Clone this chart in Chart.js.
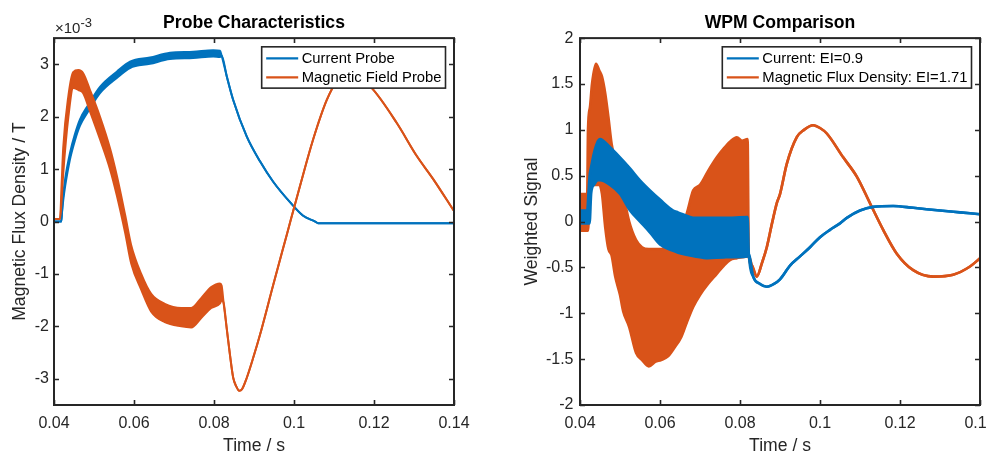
<!DOCTYPE html>
<html>
<head>
<meta charset="utf-8">
<script src="https://cdn.jsdelivr.net/npm/chart.js@4/dist/chart.umd.min.js"></script>
<style>
  body { margin: 0; background: #fff; }
  #wrap { position: relative; width: 986px; height: 453px; overflow: hidden; }
  canvas { position: absolute; top: 0; }
</style>
</head>
<body>
<div id="wrap">
  <canvas id="probeChart" width="490" height="453" style="left:0"></canvas>
  <canvas id="wpmChart" width="496" height="453" style="left:490px"></canvas>
</div>
<script>
// ---- Probe Characteristics (values in units of 1e-3 T) ----
// noisy parts are kept as an upper / lower envelope, smooth parts have high == low
const currentProbeTime = [0.0400, 0.0418, 0.0420, 0.0423, 0.0428, 0.0440, 0.0452, 0.0465, 0.0486, 0.0515,
  0.0557, 0.0590, 0.0640, 0.0690, 0.0748, 0.0798, 0.0815, 0.0819, 0.0832, 0.0848,
  0.0882, 0.0915, 0.0948, 0.0990, 0.1023, 0.1053, 0.1060, 0.1200, 0.1400];
const currentProbeHigh = [0, 0, 0.18, 0.50, 0.82, 1.31, 1.66, 1.95, 2.23, 2.57,
  2.86, 3.05, 3.13, 3.22, 3.24, 3.27, 3.26, 3.17, 2.77, 2.32,
  1.62, 1.15, 0.76, 0.37, 0.11, 0.00, -0.03, -0.03, -0.03];
const currentProbeLow = [0, 0, 0.18, 0.40, 0.68, 1.19, 1.54, 1.83, 2.11, 2.45,
  2.74, 2.93, 3.01, 3.10, 3.12, 3.15, 3.14, 3.17, 2.77, 2.32,
  1.62, 1.15, 0.76, 0.37, 0.11, 0.00, -0.03, -0.03, -0.03];

const fieldProbeTime = [0.0400, 0.0415, 0.0419, 0.0423, 0.0436, 0.0448, 0.0461, 0.0473, 0.0490, 0.0515,
  0.0540, 0.0557, 0.0578, 0.0593, 0.0618, 0.0643, 0.0677, 0.0718, 0.0743, 0.0768, 0.0793,
  0.0815, 0.0819, 0.0824, 0.0832, 0.0840, 0.0848, 0.0856, 0.0863, 0.0870, 0.0882,
  0.0898, 0.0915, 0.0948, 0.0982, 0.1015, 0.1048, 0.1082, 0.1107, 0.1150, 0.1194,
  0.1257, 0.1307, 0.1348, 0.1400];
const fieldProbeHigh = [0.05, 0.05, 0.70, 1.40, 2.40, 2.85, 2.89, 2.83, 2.51, 2.00,
  1.40, 0.88, 0.12, -0.45, -1.00, -1.38, -1.57, -1.65, -1.65, -1.46, -1.25,
  -1.18, -1.22, -1.55, -2.05, -2.55, -2.98, -3.15, -3.23, -3.20, -2.98,
  -2.60, -2.16, -1.21, -0.25, 0.68, 1.57, 2.32, 2.67, 2.80, 2.55,
  1.88, 1.25, 0.81, 0.20];
const fieldProbeLow = [0.05, 0.05, 0.40, 0.90, 2.00, 2.55, 2.51, 2.45, 2.10, 1.57,
  1.00, 0.50, -0.22, -0.80, -1.30, -1.72, -1.92, -2.00, -2.02, -1.84, -1.65,
  -1.56, -1.50, -1.55, -2.05, -2.55, -2.98, -3.15, -3.23, -3.20, -2.98,
  -2.60, -2.16, -1.21, -0.25, 0.68, 1.57, 2.32, 2.67, 2.80, 2.55,
  1.88, 1.25, 0.81, 0.20];

// ---- WPM Comparison (weighted signal) ----
const wpmCurrentTime = [0.0400, 0.0418, 0.0421, 0.0424, 0.0428, 0.0435, 0.0445, 0.0450, 0.0475, 0.0500,
  0.0525, 0.0550, 0.0575, 0.0600, 0.0633, 0.0645, 0.0675, 0.0687, 0.0720, 0.0760,
  0.0819, 0.0822, 0.0833, 0.0850, 0.0867, 0.0885, 0.0900, 0.0925, 0.0950, 0.0975,
  0.1000, 0.1025, 0.1050, 0.1067, 0.1100, 0.1133, 0.1183, 0.1233, 0.1300, 0.1350,
  0.1400];
const wpmCurrentHigh = [0.12, 0.12, 0.30, 0.50, 0.60, 0.75, 0.88, 0.90, 0.81, 0.70,
  0.58, 0.45, 0.34, 0.24, 0.12, 0.10, 0.05, 0.04, 0.04, 0.04,
  0.05, -0.35, -0.60, -0.68, -0.71, -0.68, -0.63, -0.48, -0.38, -0.28,
  -0.17, -0.09, -0.02, 0.04, 0.12, 0.16, 0.17, 0.15, 0.12, 0.10,
  0.08];
const wpmCurrentLow = [-0.02, -0.02, -0.02, -0.02, 0.31, 0.40, 0.45, 0.45, 0.40, 0.30,
  0.12, 0.00, -0.12, -0.25, -0.32, -0.34, -0.37, -0.38, -0.40, -0.39,
  -0.38, -0.35, -0.60, -0.68, -0.71, -0.68, -0.63, -0.48, -0.38, -0.28,
  -0.17, -0.09, -0.02, 0.04, 0.12, 0.16, 0.17, 0.15, 0.12, 0.10,
  0.08];

const wpmFluxTime = [0.0400, 0.0418, 0.0420, 0.0425, 0.0430, 0.0440, 0.0448, 0.0455, 0.0463, 0.0471,
  0.0479, 0.0488, 0.0500, 0.0508, 0.0523, 0.0540, 0.0555, 0.0572, 0.0588, 0.0603,
  0.0620, 0.0637, 0.0653, 0.0667, 0.0683, 0.0700, 0.0720, 0.0742, 0.0760, 0.0775,
  0.0792, 0.0805, 0.0819, 0.0822, 0.0830, 0.0842, 0.0855, 0.0867, 0.0880, 0.0892,
  0.0900, 0.0917, 0.0942, 0.0960, 0.0983, 0.1000, 0.1017, 0.1058, 0.1092, 0.1125,
  0.1158, 0.1192, 0.1233, 0.1283, 0.1333, 0.1375, 0.1400];
const wpmFluxHigh = [0.30, 0.30, 1.00, 1.25, 1.50, 1.72, 1.65, 1.58, 1.40, 1.14,
  0.85, 0.67, 0.45, 0.30, 0.00, -0.20, -0.28, -0.30, -0.30, -0.30,
  -0.25, -0.15, -0.05, 0.09, 0.34, 0.40, 0.55, 0.70, 0.80, 0.87,
  0.92, 0.88, 0.90, -0.38, -0.48, -0.60, -0.45, -0.28, -0.02, 0.20,
  0.30, 0.63, 0.92, 1.00, 1.05, 1.02, 0.96, 0.70, 0.49, 0.20,
  -0.09, -0.35, -0.53, -0.60, -0.58, -0.49, -0.40];
const wpmFluxLow = [-0.10, -0.10, -0.10, 0.35, 0.40, 0.40, 0.40, 0.30, -0.06, -0.30,
  -0.37, -0.60, -0.80, -0.98, -1.15, -1.43, -1.51, -1.58, -1.53, -1.51,
  -1.47, -1.37, -1.26, -1.10, -0.93, -0.80, -0.68, -0.57, -0.48, -0.42,
  -0.40, -0.39, -0.38, -0.38, -0.48, -0.60, -0.45, -0.28, -0.02, 0.20,
  0.30, 0.63, 0.92, 1.00, 1.05, 1.02, 0.96, 0.70, 0.49, 0.20,
  -0.09, -0.35, -0.53, -0.60, -0.58, -0.49, -0.40];

const timeTicks = [0.04, 0.06, 0.08, 0.1, 0.12, 0.14];
const probeTicks = [-3, -2, -1, 0, 1, 2, 3];
const wpmTicks = [-2, -1.5, -1, -0.5, 0, 0.5, 1, 1.5, 2];

const BLUE = '#0072BD';
const ORANGE = '#D95319';
const AXIS = '#262626';
const FONT = "'Liberation Sans', Arial, Helvetica, sans-serif";

Chart.defaults.font.family = FONT;

function points(t, v) {
    return t.map((x, i) => ({ x: x, y: v[i] }));
}

// band = upper line filled down to the lower line
function band(label, t, hi, lo, color, width, order) {
    return [
        { label: label, data: points(t, hi), borderColor: color, backgroundColor: color,
          borderWidth: width, pointRadius: 0, fill: '+1', order: order, cubicInterpolationMode: 'monotone' },
        { label: '', data: points(t, lo), borderColor: color, backgroundColor: color,
          borderWidth: width, pointRadius: 0, fill: false, order: order, cubicInterpolationMode: 'monotone' }
    ];
}

// box, inner ticks, legend and exponent, drawn the MATLAB way
const matlabAxes = {
    id: 'matlabAxes',
    afterDatasetsDraw(chart, args, opts) {
        const ctx = chart.ctx;
        const a = chart.chartArea;
        const xs = chart.scales.x, ys = chart.scales.y;
        ctx.save();
        ctx.strokeStyle = AXIS;
        ctx.lineWidth = 1.6;
        ctx.beginPath();
        xs.ticks.forEach(t => {
            const px = Math.round(xs.getPixelForValue(t.value)) + 0.5;
            ctx.moveTo(px, a.bottom); ctx.lineTo(px, a.bottom - 5);
            ctx.moveTo(px, a.top); ctx.lineTo(px, a.top + 5);
        });
        ys.ticks.forEach(t => {
            const py = Math.round(ys.getPixelForValue(t.value)) + 0.5;
            ctx.moveTo(a.left, py); ctx.lineTo(a.left + 5, py);
            ctx.moveTo(a.right, py); ctx.lineTo(a.right - 5, py);
        });
        ctx.stroke();
        ctx.lineWidth = 2;
        ctx.strokeRect(a.left, a.top, a.right - a.left, a.bottom - a.top);

        // legend
        const items = chart.data.datasets.filter(d => d.label);
        ctx.font = '14.8px ' + FONT;
        const textW = Math.max.apply(null, items.map(d => ctx.measureText(d.label).width));
        const boxW = 4.5 + 32 + 3.5 + textW + 4;
        const boxH = 41.3;
        const bx = a.right - 8.5 - boxW;
        const by = a.top + 8.7;
        ctx.fillStyle = '#fff';
        ctx.fillRect(bx, by, boxW, boxH);
        ctx.lineWidth = 1.6;
        ctx.strokeStyle = AXIS;
        ctx.strokeRect(bx, by, boxW, boxH);
        items.forEach((d, i) => {
            const ry = by + 11.6 + i * 19;
            ctx.strokeStyle = d.borderColor;
            ctx.lineWidth = 2.2;
            ctx.beginPath();
            ctx.moveTo(bx + 4.5, ry); ctx.lineTo(bx + 36.5, ry);
            ctx.stroke();
            ctx.fillStyle = '#000';
            ctx.textBaseline = 'middle';
            ctx.textAlign = 'left';
            ctx.fillText(d.label, bx + 40, ry);
        });

        if (opts.exponent) {
            ctx.fillStyle = AXIS;
            ctx.textBaseline = 'alphabetic';
            ctx.font = '15px ' + FONT;
            ctx.fillText('\u00d710', a.left + 1, 32.5);
            const w = ctx.measureText('\u00d710').width;
            ctx.font = '13px ' + FONT;
            ctx.fillText(opts.exponent, a.left + 1 + w, 26.5);
        }
        ctx.restore();
    }
};

function makeOptions(cfg) {
    return {
        responsive: false,
        devicePixelRatio: 1,
        animation: false,
        layout: { padding: { left: 0, right: cfg.padRight, top: 0, bottom: 0 } },
        plugins: {
            legend: { display: false },
            tooltip: { enabled: false },
            title: {
                display: true,
                text: cfg.title,
                fullSize: false,
                color: '#000',
                font: { size: 17.6, weight: 'bold' },
                padding: { top: 12.7, bottom: 4.3 }
            },
            matlabAxes: { exponent: cfg.exponent }
        },
        scales: {
            x: {
                type: 'linear',
                min: 0.04,
                max: 0.14,
                afterBuildTicks: s => { s.ticks = timeTicks.map(v => ({ value: v })); },
                afterFit: s => { s.height = 48; s.paddingLeft = 0; s.paddingRight = 0; },
                grid: { display: false, drawTicks: false },
                border: { display: false },
                ticks: {
                    autoSkip: false, maxRotation: 0, padding: 9,
                    color: AXIS, font: { size: 16 },
                    callback: v => String(+v.toFixed(2))
                },
                title: {
                    display: true, text: 'Time / s', color: AXIS,
                    font: { size: 17.6, lineHeight: 0.76 }, padding: 0
                }
            },
            y: {
                type: 'linear',
                min: cfg.yMin,
                max: cfg.yMax,
                afterBuildTicks: s => { s.ticks = cfg.yTicks.map(v => ({ value: v })); },
                afterFit: s => { s.width = cfg.yWidth; s.paddingTop = 0; s.paddingBottom = 0; },
                grid: { display: false, drawTicks: false },
                border: { display: false },
                ticks: {
                    autoSkip: false, padding: cfg.tickPad,
                    color: AXIS, font: { size: 16 },
                    callback: v => String(v)
                },
                title: {
                    display: true, text: cfg.yLabel, color: AXIS,
                    font: { size: 17.6 }, padding: { top: cfg.yTitlePad, bottom: 0 }
                }
            }
        }
    };
}

new Chart(document.getElementById('probeChart'), {
    type: 'line',
    data: {
        datasets: [].concat(
            band('Current Probe', currentProbeTime, currentProbeHigh, currentProbeLow, BLUE, 2, 2),
            band('Magnetic Field Probe', fieldProbeTime, fieldProbeHigh, fieldProbeLow, ORANGE, 2, 1)
        )
    },
    options: makeOptions({
        title: 'Probe Characteristics', padRight: 36, yMin: -3.5, yMax: 3.5, yTicks: probeTicks,
        yWidth: 54, tickPad: 5, yLabel: 'Magnetic Flux Density / T', yTitlePad: 9.4, exponent: '-3'
    }),
    plugins: [matlabAxes]
});

new Chart(document.getElementById('wpmChart'), {
    type: 'line',
    data: {
        datasets: [].concat(
            band('Current: EI=0.9', wpmCurrentTime, wpmCurrentHigh, wpmCurrentLow, BLUE, 2.6, 1),
            band('Magnetic Flux Density: EI=1.71', wpmFluxTime, wpmFluxHigh, wpmFluxLow, ORANGE, 2.6, 2)
        )
    },
    options: makeOptions({
        title: 'WPM Comparison', padRight: 6, yMin: -2, yMax: 2, yTicks: wpmTicks,
        yWidth: 90, tickPad: 6.5, yLabel: 'Weighted Signal', yTitlePad: 32, exponent: null
    }),
    plugins: [matlabAxes]
});
</script>
</body>
</html>
